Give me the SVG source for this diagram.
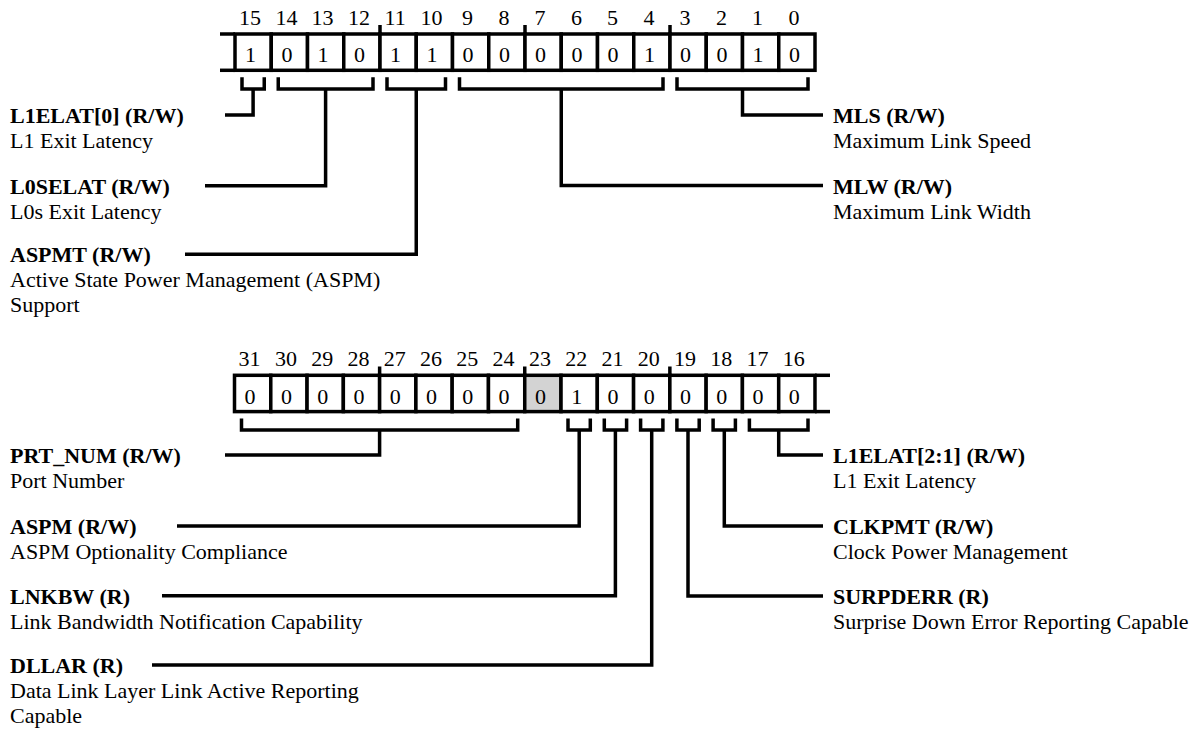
<svg xmlns="http://www.w3.org/2000/svg" width="1189" height="729" viewBox="0 0 1189 729">
<style>
  text { font-family: "Liberation Serif", "Times New Roman", serif; font-size: 22px; fill: #000; }
  .num { text-anchor: middle; }
  .val { text-anchor: middle; }
  .b { font-weight: bold; }
  .cell { fill: #fff; stroke: #000; stroke-width: 3.5; }
  .cell.rsv { fill: #d3d3d3; }
  .ln { fill: none; stroke: #000; stroke-width: 3.5; stroke-linecap: butt; stroke-linejoin: miter; }
</style>
<rect x="0" y="0" width="1189" height="729" fill="#fff"/>

<!-- Top register bits 15..0 -->
<g id="reg-low">
  <line class="ln" x1="220" y1="34" x2="235" y2="34"/>
  <line class="ln" x1="220" y1="70.3" x2="235" y2="70.3"/>
  <rect class="cell" x="235" y="34" width="36.25" height="36.3"/>
  <rect class="cell" x="271.25" y="34" width="36.25" height="36.3"/>
  <rect class="cell" x="307.5" y="34" width="36.25" height="36.3"/>
  <rect class="cell" x="343.75" y="34" width="36.25" height="36.3"/>
  <rect class="cell" x="380" y="34" width="36.25" height="36.3"/>
  <rect class="cell" x="416.25" y="34" width="36.25" height="36.3"/>
  <rect class="cell" x="452.5" y="34" width="36.25" height="36.3"/>
  <rect class="cell" x="488.75" y="34" width="36.25" height="36.3"/>
  <rect class="cell" x="525" y="34" width="36.25" height="36.3"/>
  <rect class="cell" x="561.25" y="34" width="36.25" height="36.3"/>
  <rect class="cell" x="597.5" y="34" width="36.25" height="36.3"/>
  <rect class="cell" x="633.75" y="34" width="36.25" height="36.3"/>
  <rect class="cell" x="670" y="34" width="36.25" height="36.3"/>
  <rect class="cell" x="706.25" y="34" width="36.25" height="36.3"/>
  <rect class="cell" x="742.5" y="34" width="36.25" height="36.3"/>
  <rect class="cell" x="778.75" y="34" width="36.25" height="36.3"/>
  <line class="ln" x1="380" y1="25" x2="380" y2="34"/>
  <line class="ln" x1="525" y1="25" x2="525" y2="34"/>
  <line class="ln" x1="670" y1="25" x2="670" y2="34"/>
  <g>
    <text class="num" x="250.1" y="24.5">15</text>
    <text class="num" x="286.4" y="24.5">14</text>
    <text class="num" x="322.6" y="24.5">13</text>
    <text class="num" x="358.9" y="24.5">12</text>
    <text class="num" x="395.1" y="24.5">11</text>
    <text class="num" x="431.4" y="24.5">10</text>
    <text class="num" x="467.6" y="24.5">9</text>
    <text class="num" x="503.9" y="24.5">8</text>
    <text class="num" x="540.1" y="24.5">7</text>
    <text class="num" x="576.4" y="24.5">6</text>
    <text class="num" x="612.6" y="24.5">5</text>
    <text class="num" x="648.9" y="24.5">4</text>
    <text class="num" x="685.1" y="24.5">3</text>
    <text class="num" x="721.4" y="24.5">2</text>
    <text class="num" x="757.6" y="24.5">1</text>
    <text class="num" x="793.9" y="24.5">0</text>
  </g>
  <g>
    <text class="val" x="250.6" y="62.3">1</text>
    <text class="val" x="286.9" y="62.3">0</text>
    <text class="val" x="323.1" y="62.3">1</text>
    <text class="val" x="359.4" y="62.3">0</text>
    <text class="val" x="395.6" y="62.3">1</text>
    <text class="val" x="431.9" y="62.3">1</text>
    <text class="val" x="468.1" y="62.3">0</text>
    <text class="val" x="504.4" y="62.3">0</text>
    <text class="val" x="540.6" y="62.3">0</text>
    <text class="val" x="576.9" y="62.3">0</text>
    <text class="val" x="613.1" y="62.3">0</text>
    <text class="val" x="649.4" y="62.3">1</text>
    <text class="val" x="685.6" y="62.3">0</text>
    <text class="val" x="721.9" y="62.3">0</text>
    <text class="val" x="758.1" y="62.3">1</text>
    <text class="val" x="794.4" y="62.3">0</text>
  </g>
</g>

<!-- Bottom register bits 31..16 -->
<g id="reg-high">
  <line class="ln" x1="815" y1="375.3" x2="830" y2="375.3"/>
  <line class="ln" x1="815" y1="411.6" x2="830" y2="411.6"/>
  <rect class="cell" x="234.5" y="375.3" width="36.28" height="36.3"/>
  <rect class="cell" x="270.78" y="375.3" width="36.28" height="36.3"/>
  <rect class="cell" x="307.06" y="375.3" width="36.28" height="36.3"/>
  <rect class="cell" x="343.34" y="375.3" width="36.28" height="36.3"/>
  <rect class="cell" x="379.62" y="375.3" width="36.28" height="36.3"/>
  <rect class="cell" x="415.9" y="375.3" width="36.28" height="36.3"/>
  <rect class="cell" x="452.18" y="375.3" width="36.28" height="36.3"/>
  <rect class="cell" x="488.46" y="375.3" width="36.28" height="36.3"/>
  <rect class="cell rsv" x="524.74" y="375.3" width="36.28" height="36.3"/>
  <rect class="cell" x="561.02" y="375.3" width="36.28" height="36.3"/>
  <rect class="cell" x="597.3" y="375.3" width="36.28" height="36.3"/>
  <rect class="cell" x="633.58" y="375.3" width="36.28" height="36.3"/>
  <rect class="cell" x="669.86" y="375.3" width="36.28" height="36.3"/>
  <rect class="cell" x="706.14" y="375.3" width="36.28" height="36.3"/>
  <rect class="cell" x="742.42" y="375.3" width="36.28" height="36.3"/>
  <rect class="cell" x="778.7" y="375.3" width="36.28" height="36.3"/>
  <line class="ln" x1="379.62" y1="366.5" x2="379.62" y2="375.3"/>
  <line class="ln" x1="524.74" y1="366.5" x2="524.74" y2="375.3"/>
  <line class="ln" x1="669.86" y1="366.5" x2="669.86" y2="375.3"/>
  <g>
    <text class="num" x="249.6" y="366">31</text>
    <text class="num" x="285.9" y="366">30</text>
    <text class="num" x="322.2" y="366">29</text>
    <text class="num" x="358.5" y="366">28</text>
    <text class="num" x="394.8" y="366">27</text>
    <text class="num" x="431.0" y="366">26</text>
    <text class="num" x="467.3" y="366">25</text>
    <text class="num" x="503.6" y="366">24</text>
    <text class="num" x="539.9" y="366">23</text>
    <text class="num" x="576.2" y="366">22</text>
    <text class="num" x="612.4" y="366">21</text>
    <text class="num" x="648.7" y="366">20</text>
    <text class="num" x="685.0" y="366">19</text>
    <text class="num" x="721.3" y="366">18</text>
    <text class="num" x="757.6" y="366">17</text>
    <text class="num" x="793.8" y="366">16</text>
  </g>
  <g>
    <text class="val" x="250.1" y="403.6">0</text>
    <text class="val" x="286.4" y="403.6">0</text>
    <text class="val" x="322.7" y="403.6">0</text>
    <text class="val" x="359.0" y="403.6">0</text>
    <text class="val" x="395.3" y="403.6">0</text>
    <text class="val" x="431.5" y="403.6">0</text>
    <text class="val" x="467.8" y="403.6">0</text>
    <text class="val" x="504.1" y="403.6">0</text>
    <text class="val" x="540.4" y="403.6">0</text>
    <text class="val" x="576.7" y="403.6">1</text>
    <text class="val" x="612.9" y="403.6">0</text>
    <text class="val" x="649.2" y="403.6">0</text>
    <text class="val" x="685.5" y="403.6">0</text>
    <text class="val" x="721.8" y="403.6">0</text>
    <text class="val" x="758.1" y="403.6">0</text>
    <text class="val" x="794.3" y="403.6">0</text>
  </g>
</g>

<!-- Connectors: brackets and leader lines -->
<g id="connectors">
  <path class="ln" d="M242,77.3 V89 H264.25 V77.3 M253.1,89 V115 H225"/>
  <path class="ln" d="M278.25,77.3 V89 H373 V77.3 M325.6,89 V185.7 H205"/>
  <path class="ln" d="M387,77.3 V89 H445.5 V77.3 M416.25,89 V254.3 H185"/>
  <path class="ln" d="M459.5,77.3 V89 H663 V77.3 M561.25,89 V185.5 H823"/>
  <path class="ln" d="M677,77.3 V89 H808 V77.3 M742.5,89 V115 H823"/>

  <path class="ln" d="M241.5,418.6 V430 H517.7 V418.6 M379.6,430 V455 H225"/>
  <path class="ln" d="M568,418.6 V430 H590.3 V418.6 M579.2,430 V526 H177"/>
  <path class="ln" d="M604.3,418.6 V430 H626.6 V418.6 M615.4,430 V595.7 H162"/>
  <path class="ln" d="M640.6,418.6 V430 H662.9 V418.6 M651.7,430 V665 H152"/>
  <path class="ln" d="M676.9,418.6 V430 H699.2 V418.6 M688,430 V596 H823"/>
  <path class="ln" d="M713.1,418.6 V430 H735.4 V418.6 M724.3,430 V526 H823"/>
  <path class="ln" d="M749.4,418.6 V430 H808 V418.6 M778.7,430 V455 H823"/>
</g>

<!-- Field labels -->
<g id="f-l1elat0">
  <text class="b" x="10" y="123">L1ELAT[0] (R/W)</text>
  <text x="10" y="148">L1 Exit Latency</text>
</g>
<g id="f-l0selat">
  <text class="b" x="10" y="193.7">L0SELAT (R/W)</text>
  <text x="10" y="218.7">L0s Exit Latency</text>
</g>
<g id="f-aspmt">
  <text class="b" x="10" y="262.3">ASPMT (R/W)</text>
  <text x="10" y="287.3">Active State Power Management (ASPM)</text>
  <text x="10" y="312.3">Support</text>
</g>
<g id="f-mls">
  <text class="b" x="833" y="123">MLS (R/W)</text>
  <text x="833" y="148">Maximum Link Speed</text>
</g>
<g id="f-mlw">
  <text class="b" x="833" y="193.5">MLW (R/W)</text>
  <text x="833" y="218.5">Maximum Link Width</text>
</g>
<g id="f-prtnum">
  <text class="b" x="10" y="463">PRT_NUM (R/W)</text>
  <text x="10" y="488">Port Number</text>
</g>
<g id="f-aspm">
  <text class="b" x="10" y="534">ASPM (R/W)</text>
  <text x="10" y="559">ASPM Optionality Compliance</text>
</g>
<g id="f-lnkbw">
  <text class="b" x="10" y="603.7">LNKBW (R)</text>
  <text x="10" y="628.7">Link Bandwidth Notification Capability</text>
</g>
<g id="f-dllar">
  <text class="b" x="10" y="673">DLLAR (R)</text>
  <text x="10" y="698">Data Link Layer Link Active Reporting</text>
  <text x="10" y="723">Capable</text>
</g>
<g id="f-l1elat21">
  <text class="b" x="833" y="463">L1ELAT[2:1] (R/W)</text>
  <text x="833" y="488">L1 Exit Latency</text>
</g>
<g id="f-clkpmt">
  <text class="b" x="833" y="534">CLKPMT (R/W)</text>
  <text x="833" y="559">Clock Power Management</text>
</g>
<g id="f-surpderr">
  <text class="b" x="833" y="604">SURPDERR (R)</text>
  <text x="833" y="629">Surprise Down Error Reporting Capable</text>
</g>
</svg>
